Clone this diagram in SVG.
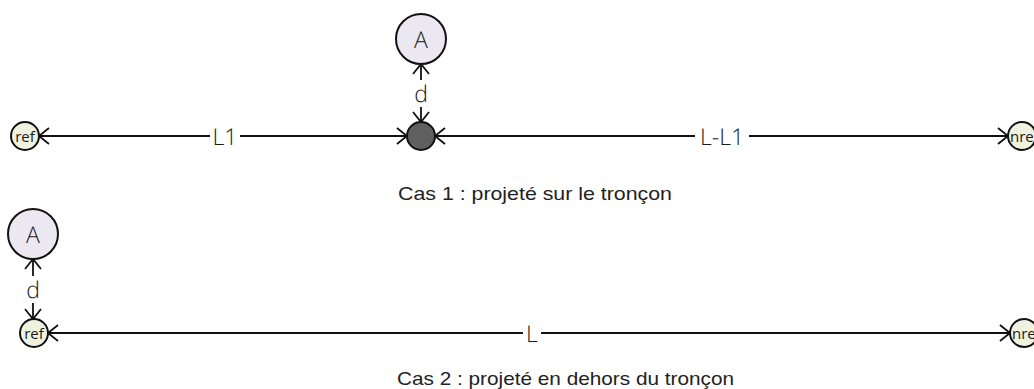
<svg xmlns="http://www.w3.org/2000/svg" width="1034" height="389" viewBox="0 0 1034 389">
<style>
.conn{stroke:#111;stroke-width:1.8;fill:none;marker-start:url(#chev);marker-end:url(#chev)}
.ep{fill:#eef2df;stroke:#111;stroke-width:2}
.pt{fill:#ebe8f1;stroke:#111;stroke-width:2}
.proj{fill:#5f5f5f;stroke:#111;stroke-width:2}
.bg{fill:#fff}
.lbl{font-family:"Open Sans","Liberation Sans",sans-serif;font-weight:300;font-size:23px;fill:#1a1a1a;text-anchor:middle;dominant-baseline:central;text-rendering:geometricPrecision}
.small{font-family:"Open Sans","Liberation Sans",sans-serif;font-size:15px;fill:#1a1a1a;dominant-baseline:central}
.cap{font-family:"Liberation Sans",sans-serif;font-size:19px;fill:#222}
</style>
<defs>
<marker id="chev" viewBox="-12 -9 14 18" refX="0" refY="0" markerWidth="14" markerHeight="18" markerUnits="userSpaceOnUse" orient="auto-start-reverse">
<path d="M-10,-8 L0,0 L-10,8" fill="none" stroke="#111" stroke-width="1.8"/>
</marker>
</defs>
<g id="connectors">
<line class="conn" x1="39" y1="136" x2="407" y2="136"/>
<line class="conn" x1="435" y1="136" x2="1008" y2="136"/>
<line class="conn" x1="421" y1="64" x2="421" y2="122"/>
<line class="conn" x1="48" y1="333" x2="1010" y2="333"/>
<line class="conn" x1="33" y1="259" x2="33" y2="319"/>
<rect class="bg" x="210" y="124" width="30" height="24"/>
<text class="lbl" x="225" y="136">L1</text>
<rect class="bg" x="695" y="124" width="54" height="24"/>
<text class="lbl" x="722" y="136">L-L1</text>
<rect class="bg" x="411" y="80" width="20" height="27"/>
<text class="lbl" x="421" y="93">d</text>
<rect class="bg" x="523" y="321" width="18" height="24"/>
<text class="lbl" x="532" y="333">L</text>
<rect class="bg" x="23" y="276" width="20" height="27"/>
<text class="lbl" x="33" y="289">d</text>
</g>
<g id="ref1"><circle class="ep" cx="25" cy="136" r="14"/><text class="small" x="25" y="136" text-anchor="middle">ref</text></g>
<g id="proj1"><circle class="proj" cx="421" cy="136" r="14"/></g>
<g id="nref1"><circle class="ep" cx="1022" cy="136" r="14"/><text class="small" x="1010" y="136">nref</text></g>
<g id="A1"><circle class="pt" cx="421" cy="39" r="25"/><text class="lbl" x="421" y="39">A</text></g>
<g id="ref2"><circle class="ep" cx="34" cy="333" r="14"/><text class="small" x="34" y="333" text-anchor="middle">ref</text></g>
<g id="nref2"><circle class="ep" cx="1024" cy="333" r="14"/><text class="small" x="1012" y="333">nref</text></g>
<g id="A2"><circle class="pt" cx="33" cy="234" r="25"/><text class="lbl" x="33" y="234">A</text></g>
<text class="cap" x="398" y="200" textLength="274" lengthAdjust="spacingAndGlyphs">Cas 1 : projeté sur le tronçon</text>
<text class="cap" x="397" y="385" textLength="337" lengthAdjust="spacingAndGlyphs">Cas 2 : projeté en dehors du tronçon</text>
</svg>
